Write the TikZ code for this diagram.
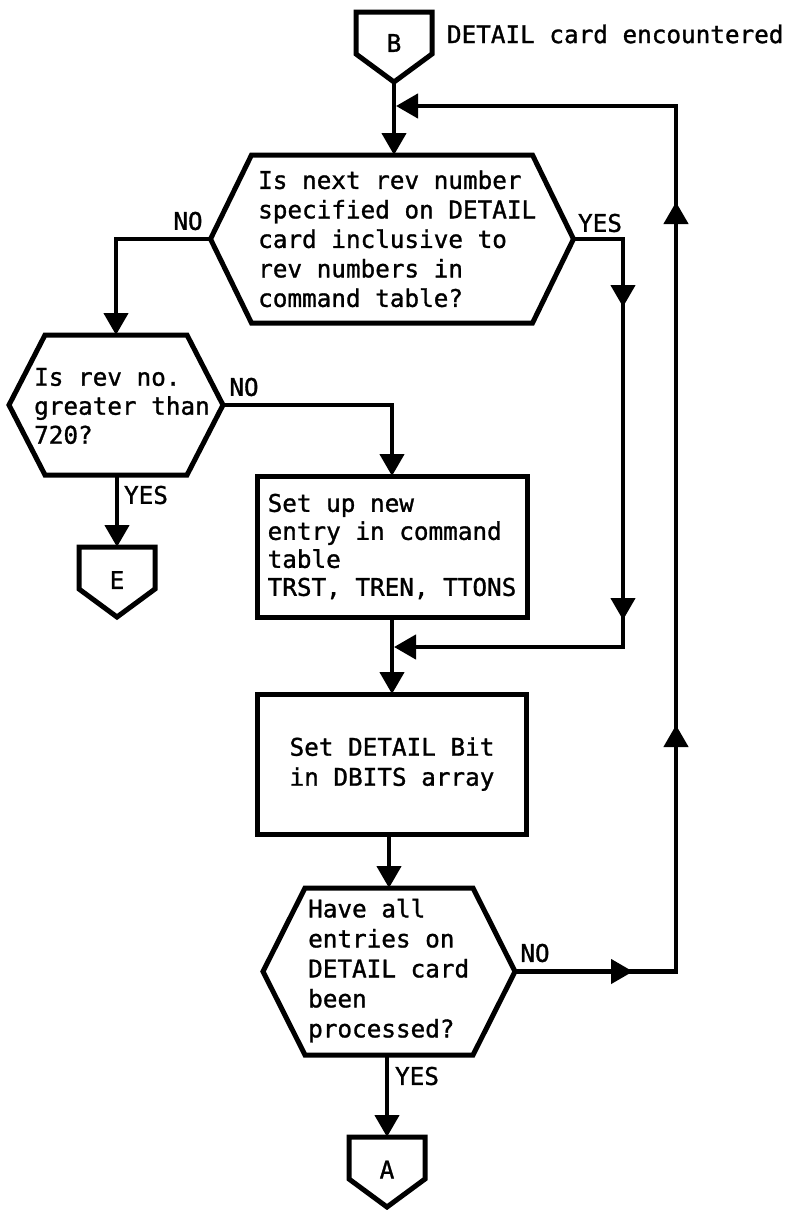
\documentclass[tikz,border=0pt]{standalone}
\usepackage{fontspec}
\usetikzlibrary{arrows.meta}
\newfontfamily\monof{DejaVu Sans Mono}[FakeBold=1.2]
\newcommand\hexshape[2]{\draw[shp] (#1.west) -- ([xshift=#2]#1.north west) -- ([xshift=-#2]#1.north east) -- (#1.east) -- ([xshift=-#2]#1.south east) -- ([xshift=#2]#1.south west) -- cycle;}
\newcommand\offpage[1]{\draw[shp] (#1.north west) -- (#1.north east) -- ([yshift=-42pt]#1.north east) -- (#1.south) -- ([yshift=-42pt]#1.north west) -- cycle;}
\begin{document}
\begin{tikzpicture}[x=1pt,y=-1pt,
  ln/.style={line width=4.4pt, line join=miter},
  arr/.style={ln, -{Triangle[width=24pt,length=22pt]}},
  cont/.style={shorten <=-20pt},
  shp/.style={line width=5pt, line join=miter},
  hexn/.style={draw=none, inner sep=0pt, outer sep=0pt},
  lbl/.style={inner sep=0pt, outer sep=0pt, font=\monof\fontsize{24.3}{29.5}\selectfont},
  txtA/.style={inner sep=0pt, align=left, font=\monof\fontsize{24.3}{29.5}\selectfont},
  txtB/.style={inner sep=0pt, align=left, font=\monof\fontsize{24.3}{29}\selectfont},
  txtC/.style={inner sep=0pt, align=left, font=\monof\fontsize{24.3}{30}\selectfont},
  boxA/.style={shp, draw, inner sep=0pt, outer sep=0pt, align=left, font=\monof\fontsize{24.3}{28}\selectfont},
  boxB/.style={shp, draw, inner sep=0pt, outer sep=0pt, align=center, font=\monof\fontsize{24.3}{30}\selectfont},
]
\useasboundingbox (0,0) rectangle (794,1210);

% off-page connectors
\node[hexn, lbl, minimum width=76pt, minimum height=70pt] (B) at (394,47) {\raisebox{8pt}{B}};
\node[hexn, lbl, minimum width=76pt, minimum height=70pt] (E) at (117,582) {\raisebox{4pt}{E}};
\node[hexn, lbl, minimum width=76pt, minimum height=70pt] (A) at (387,1172) {\raisebox{5pt}{A}};
\offpage{B}
\offpage{E}
\offpage{A}

% decisions
\node[hexn, minimum width=363pt, minimum height=168pt] (h1) at (392,239) {};
\node[hexn, minimum width=214pt, minimum height=140pt] (h2) at (116,405) {};
\node[hexn, minimum width=252pt, minimum height=167pt] (h3) at (389,971.5) {};
\hexshape{h1}{41pt}
\hexshape{h2}{36pt}
\hexshape{h3}{42pt}
\node[txtA, anchor=west] (t1) at (258,238.8) {Is next rev number\\specified on DETAIL\\card inclusive to\\rev numbers in\\command table?};
\node[txtB, anchor=west] (t2) at (34,406) {Is rev no.\\greater than\\720?};
\node[txtC, anchor=west] (t3) at (308,970.6) {Have all\\entries on\\DETAIL card\\been\\processed?};

% processes
\node[boxA, minimum width=270pt, minimum height=141pt] (b1) at (392,546.5) {Set up new\\entry in command\\table\\TRST, TREN, TTONS};
\node[boxB, minimum width=269pt, minimum height=140pt] (b2) at (392,764) {Set DETAIL Bit\\in DBITS array};

% labels
\node[lbl, anchor=west] (title) at (447,34) {DETAIL card encountered};
\node[lbl] (no1) at (188,221) {NO};
\node[lbl] (yes1) at (600,223) {YES};
\node[lbl] (no2) at (244,387) {NO};
\node[lbl] (yes2) at (146,495) {YES};
\node[lbl] (no3) at (535,953) {NO};
\node[lbl] (yes3) at (417,1076) {YES};

% connectors
\coordinate (jB) at (394,106);
\coordinate (jM) at (392,647);
\coordinate (y1) at (623,307);
\coordinate (y2) at (623,620);
\coordinate (r1) at (633,971.5);
\coordinate (r2) at (676,725);
\coordinate (r3) at (676,202);

\draw[arr] (B.south) -- (B.south |- h1.north);
\draw[arr] (h1.west) -| (h2.north);
\draw[arr] (E.north |- h2.south) -- (E.north);
\draw[arr] (h2.east) -| (b1.north);
\draw[arr] (h1.east) -| (y1);
\draw[arr, cont] (y1) -- (y2);
\draw[arr, cont, shorten >=2pt] (y2) |- (jM);
\draw[arr] (b1.south) -- (b2.north);
\draw[arr] (h3.north |- b2.south) -- (h3.north);
\draw[arr] (A.north |- h3.south) -- (A.north);
\draw[arr] (h3.east) -- (r1);
\draw[arr, cont] (r1) -| (r2);
\draw[arr, cont] (r2) -- (r3);
\draw[arr, cont, shorten >=2pt] (r3) |- (jB);
\end{tikzpicture}
\end{document}
